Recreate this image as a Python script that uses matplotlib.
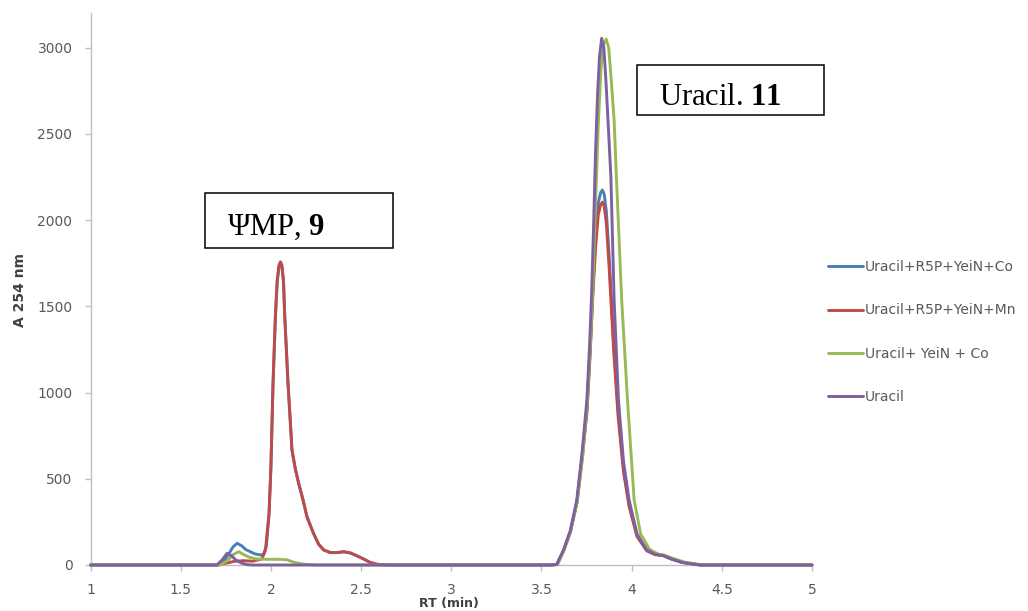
import numpy as np
import matplotlib
matplotlib.use("Agg")
import matplotlib.pyplot as plt
from matplotlib.patches import Rectangle

plt.rcParams['font.family'] = ['DejaVu Sans']
plt.rcParams['mathtext.fontset'] = 'custom'
plt.rcParams['mathtext.rm'] = 'Liberation Serif'
plt.rcParams['mathtext.bf'] = 'Liberation Serif:bold'

# HPLC traces: (retention time in min, absorbance at 254 nm)
trace_co = [(1.00, 0), (1.71, 0), (1.74, 20), (1.77, 70), (1.79, 105), (1.813, 126),
            (1.84, 110), (1.86, 90), (1.886, 77), (1.91, 65), (1.941, 58), (1.96, 62),
            (1.975, 110), (1.99, 300), (2.00, 560), (2.012, 1054), (2.025, 1440),
            (2.035, 1640), (2.045, 1730), (2.053, 1750), (2.061, 1730), (2.07, 1640),
            (2.077, 1440), (2.095, 1054), (2.117, 667), (2.135, 560), (2.154, 474),
            (2.18, 370), (2.20, 280), (2.236, 184), (2.265, 120), (2.293, 87), (2.33, 72),
            (2.37, 72), (2.403, 77), (2.44, 70), (2.48, 52), (2.514, 35), (2.55, 15),
            (2.59, 4), (2.65, 0), (3.55, 0), (3.585, 3), (3.622, 80), (3.66, 190),
            (3.696, 360), (3.725, 620), (3.752, 900), (3.77, 1250), (3.785, 1600),
            (3.80, 1900), (3.815, 2100), (3.828, 2160), (3.838, 2175), (3.848, 2150),
            (3.86, 2050), (3.875, 1800), (3.90, 1300), (3.925, 900), (3.955, 560),
            (3.986, 350), (4.03, 170), (4.084, 85), (4.13, 62), (4.175, 55), (4.22, 35),
            (4.28, 15), (4.38, 0), (5.00, 0)]

trace_mn = [(1.00, 0), (1.70, 0), (1.75, 10), (1.80, 22), (1.85, 25), (1.90, 22),
            (1.95, 35), (1.97, 87), (1.99, 300), (2.00, 560), (2.012, 1054),
            (2.025, 1440), (2.035, 1650), (2.045, 1740), (2.053, 1759), (2.061, 1740),
            (2.07, 1650), (2.077, 1440), (2.095, 1054), (2.117, 667), (2.135, 560),
            (2.154, 474), (2.18, 370), (2.20, 280), (2.236, 184), (2.265, 120),
            (2.293, 87), (2.33, 72), (2.37, 72), (2.403, 77), (2.44, 70), (2.48, 52),
            (2.514, 35), (2.55, 15), (2.59, 4), (2.65, 0), (3.55, 0), (3.585, 3),
            (3.622, 80), (3.66, 190), (3.696, 360), (3.725, 610), (3.752, 880),
            (3.77, 1220), (3.785, 1560), (3.80, 1840), (3.815, 2030), (3.828, 2090),
            (3.838, 2105), (3.848, 2080), (3.86, 1980), (3.875, 1730), (3.90, 1250),
            (3.925, 860), (3.955, 540), (3.986, 340), (4.03, 165), (4.084, 82),
            (4.13, 60), (4.175, 55), (4.22, 35), (4.28, 15), (4.38, 0), (5.00, 0)]

trace_yein_co = [(1.00, 0), (1.72, 0), (1.76, 25), (1.79, 60), (1.822, 77), (1.85, 60),
                 (1.88, 45), (1.92, 35), (1.98, 33), (2.05, 33), (2.09, 30), (2.13, 15),
                 (2.18, 5), (2.25, 0), (3.55, 0), (3.59, 3), (3.625, 87), (3.66, 190),
                 (3.70, 377), (3.73, 640), (3.755, 957), (3.772, 1300), (3.785, 1600),
                 (3.80, 2100), (3.815, 2550), (3.83, 2880), (3.845, 3020), (3.859, 3050),
                 (3.873, 3000), (3.888, 2800), (3.903, 2580), (3.914, 2291), (3.93, 1900),
                 (3.945, 1537), (3.977, 957), (4.014, 377), (4.05, 180), (4.10, 90),
                 (4.15, 62), (4.18, 58), (4.23, 38), (4.30, 15), (4.40, 0), (5.00, 0)]

trace_uracil = [(1.00, 0), (1.70, 0), (1.73, 30), (1.757, 68), (1.78, 55), (1.81, 25),
                (1.84, 10), (1.87, 2), (1.90, 0), (3.55, 0), (3.585, 3), (3.622, 87),
                (3.66, 200), (3.696, 377), (3.725, 650), (3.752, 957), (3.768, 1300),
                (3.779, 1600), (3.79, 2000), (3.80, 2400), (3.812, 2750), (3.822, 2950),
                (3.834, 3055), (3.846, 3000), (3.858, 2800), (3.87, 2560), (3.885, 2250),
                (3.903, 1537), (3.927, 957), (3.955, 600), (3.986, 377), (4.03, 180),
                (4.084, 87), (4.13, 62), (4.175, 55), (4.22, 35), (4.28, 15), (4.38, 0),
                (5.00, 0)]

series_labels = ["Uracil+R5P+YeiN+Co", "Uracil+R5P+YeiN+Mn", "Uracil+ YeiN + Co", "Uracil"]
series_colors = ["#4A7EBB", "#BE4B48", "#98B954", "#7D60A0"]
x_ticks = [1, 1.5, 2, 2.5, 3, 3.5, 4, 4.5, 5]
x_tick_labels = ["1", "1.5", "2", "2.5", "3", "3.5", "4", "4.5", "5"]
y_ticks = [0, 500, 1000, 1500, 2000, 2500, 3000]

W, H = 1028, 611
fig = plt.figure(figsize=(W / 100, H / 100), dpi=100)
ax = fig.add_axes([90.5 / W, 1 - 565 / H, (812 - 90.5) / W, 551.7 / H])

traces = [trace_co, trace_mn, trace_yein_co, trace_uracil]
handles = []
for tr, lab, col in zip(traces, series_labels, series_colors):
    arr = np.array(tr, dtype=float)
    h, = ax.plot(arr[:, 0], arr[:, 1], color=col, lw=2.1, label=lab,
                 solid_joinstyle='round', solid_capstyle='round', clip_on=False, zorder=3)
    handles.append(h)

ax.set_xlim(1, 5)
ax.set_ylim(0, 3200)
ax.set_xticks(x_ticks)
ax.set_xticklabels(x_tick_labels)
ax.set_yticks(y_ticks)

for side in ("top", "right"):
    ax.spines[side].set_visible(False)
for side in ("left", "bottom"):
    ax.spines[side].set_color("#BFBFBF")
    ax.spines[side].set_linewidth(1.0)

ax.tick_params(axis='both', which='major', direction='out', length=4, width=1.0,
               color="#BFBFBF", labelsize=10, labelcolor="#595959")
ax.tick_params(axis='y', pad=9)
ax.tick_params(axis='x', pad=9)

fig.text(20 / W, 1 - 290 / H, "A 254 nm", rotation=90, fontsize=10, fontweight='bold',
         color="#404040", ha='center', va='center')
fig.text(449 / W, 1 - 603 / H, "RT (min)", fontsize=9, fontweight='bold',
         color="#404040", ha='center', va='center')

leg = fig.legend(handles=handles, loc='center left',
                 bbox_to_anchor=(828 / W, 1 - 332 / H), frameon=False, fontsize=10,
                 handlelength=2.5, handletextpad=0.15, labelspacing=2.1, borderpad=0,
                 borderaxespad=0)
for t in leg.get_texts():
    t.set_color("#595959")

# annotation boxes
boxes = [((205, 193.3, 392.7, 248.3), (227, 235), r"ΨMP, $\mathbf{9}$"),
         ((636.7, 65, 824, 115), (659, 105), r"Uracil. $\mathbf{11}$")]
for (x0, y0, x1, y1), (tx, ty), txt in boxes:
    fig.add_artist(Rectangle((x0 / W, 1 - y1 / H), (x1 - x0) / W, (y1 - y0) / H,
                             transform=fig.transFigure, fill=True, facecolor='white',
                             edgecolor='black', linewidth=1.1, zorder=5))
    fig.text(tx / W, 1 - ty / H, txt, fontsize=22, family='Liberation Serif',
             ha='left', va='baseline', color='black', zorder=6)

fig.savefig("out.png", dpi=100)
